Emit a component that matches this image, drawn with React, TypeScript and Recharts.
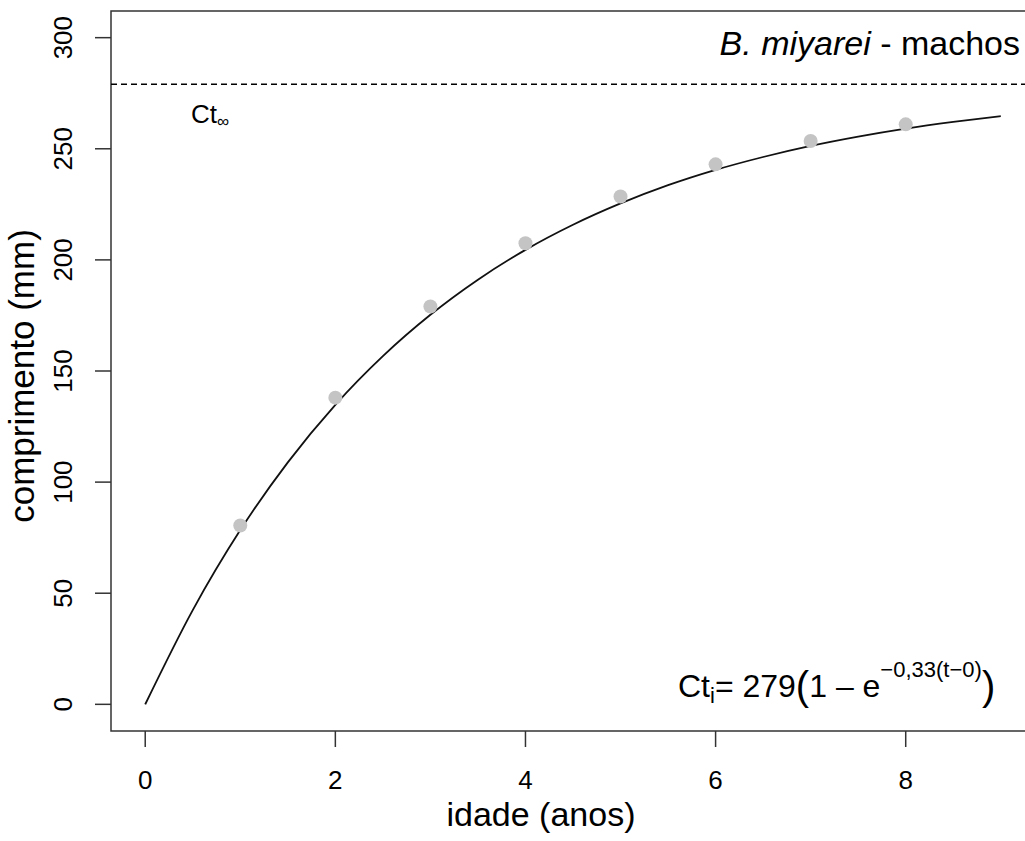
import {
  ComposedChart, Line, Scatter, XAxis, YAxis, ReferenceLine, ReferenceArea,
} from 'recharts';

// observed mean lengths by age
const AGES = [1, 2, 3, 4, 5, 6, 7, 8];
const LENGTHS = [80.5, 138, 179, 207.5, 228.5, 243, 253.5, 261];

// fitted growth curve, every half year
const CURVE_T = [0, 0.5, 1, 1.5, 2, 2.5, 3, 3.5, 4, 4.5, 5, 5.5, 6, 6.5, 7, 7.5, 8, 8.5, 9];
const CURVE_L = [0, 42.4, 78.4, 108.9, 134.8, 156.7, 175.3, 191.1, 204.5, 215.8, 225.4, 233.6, 240.5, 246.3, 251.3, 255.5, 259.1, 262.1, 264.7];

const CT_INF = 279;
const X_TICKS = [0, 2, 4, 6, 8];
const Y_TICKS = [0, 50, 100, 150, 200, 250, 300];
const X_DOMAIN: [number, number] = [-0.36, 9.36];
const Y_DOMAIN: [number, number] = [-12, 312];

const points = AGES.map((t, i) => ({ t, l: LENGTHS[i] }));
const curve = CURVE_T.map((t, i) => ({ t, l: CURVE_L[i] }));

const FONT = '"Liberation Sans", Arial, sans-serif';
const INK = '#333';

function YTick({ x, y, payload }: { x?: number; y?: number; payload?: { value: number } }) {
  return (
    <text x={x} y={y} transform={`rotate(-90 ${x} ${y})`} textAnchor="middle"
      fontSize={26} fontFamily={FONT} fill="#000">
      {payload?.value}
    </text>
  );
}

export default function App() {
  return (
    <div style={{ position: 'absolute', left: 0, top: 0, width: 1025, height: 841, overflow: 'hidden', background: '#fff' }}>
      <ComposedChart width={1040} height={841} margin={{ top: 11, right: 5, bottom: 0, left: 0 }}>
        <XAxis type="number" dataKey="t" domain={X_DOMAIN} ticks={X_TICKS} allowDataOverflow
          height={110} tickSize={16} tickMargin={24} axisLine={false}
          tickLine={{ stroke: INK, strokeWidth: 1.5 }}
          tick={{ fontSize: 26, fontFamily: FONT, fill: '#000' }} />
        <YAxis type="number" dataKey="l" domain={Y_DOMAIN} ticks={Y_TICKS} allowDataOverflow
          width={111} tickSize={16} tickMargin={23} axisLine={false}
          tickLine={{ stroke: INK, strokeWidth: 1.5 }}
          tick={<YTick />} />
        <ReferenceLine y={CT_INF} stroke="#000" strokeWidth={1.5} strokeDasharray="6 4" />
        <Scatter data={points} dataKey="l" fill="#c4c4c4" isAnimationActive={false}
          shape={(p: any) => <circle cx={p.cx} cy={p.cy} r={7} fill="#c4c4c4" />} />
        <Line data={curve} dataKey="l" type="monotone" stroke="#111" strokeWidth={1.8}
          dot={false} activeDot={false} isAnimationActive={false} />
        <ReferenceArea x1={X_DOMAIN[0]} x2={X_DOMAIN[1]} y1={Y_DOMAIN[0]} y2={Y_DOMAIN[1]}
          fill="none" stroke={INK} strokeWidth={1.5} />
      </ComposedChart>
      <svg width={1025} height={841} style={{ position: 'absolute', left: 0, top: 0, pointerEvents: 'none' }}
        fontFamily={FONT}>
        <text x={1020} y={55} textAnchor="end" fontSize={34} fill="#000">
          <tspan fontStyle="italic">B. miyarei</tspan> -  machos
        </text>
        <text x={191} y={123} fontSize={26} fill="#000">
          Ct<tspan fontSize={17} dy={4}>∞</tspan>
        </text>
        <text x={678} y={697} fontSize={32} fill="#000">
          Ct<tspan fontSize={22} dy={6}>i</tspan>
          <tspan dy={-6}>= 279</tspan>
          <tspan fontSize={40} dy={3}>(</tspan>
          <tspan fontSize={32} dy={-3}>1 – e</tspan>
          <tspan fontSize={22} dy={-20}>−0,33(t−0)</tspan>
          <tspan fontSize={40} dy={23}>)</tspan>
        </text>
        <text x={541} y={826} textAnchor="middle" fontSize={34} fill="#000">idade (anos)</text>
        <text x={34} y={376} transform="rotate(-90 34 376)" textAnchor="middle" fontSize={35} fill="#000">
          comprimento (mm)
        </text>
      </svg>
    </div>
  );
}
